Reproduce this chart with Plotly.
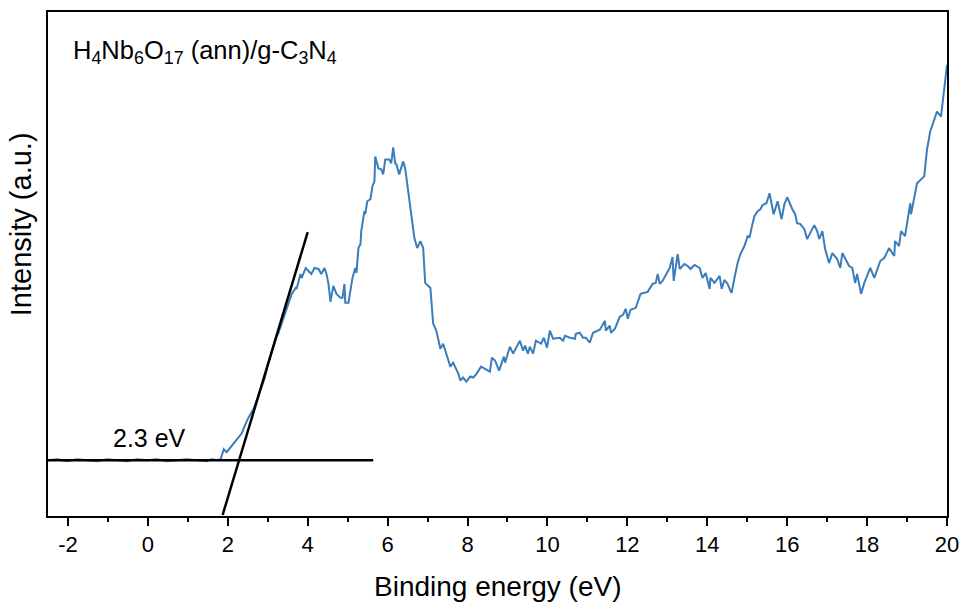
import plotly.graph_objects as go

# Binding energy (eV)
energy = [
    -2.5, -2.27, -2.02, -1.77, -1.52, -1.27, -1.02, -0.77, -0.52, -0.27,
    -0.02, 0.22, 0.47, 0.72, 0.97, 1.22, 1.47, 1.60, 1.72, 1.82,
    1.90, 1.97, 2.07, 2.15, 2.27, 2.35, 2.45, 2.52, 2.65, 2.72,
    2.82, 2.92, 3.02, 3.12, 3.20, 3.27, 3.45, 3.60, 3.70, 3.72,
    3.82, 3.85, 3.95, 4.02, 4.09, 4.17, 4.27, 4.34, 4.42, 4.47,
    4.52, 4.57, 4.64, 4.72, 4.82, 4.87, 4.92, 4.94, 5.02, 5.12,
    5.19, 5.22, 5.27, 5.32, 5.34, 5.42, 5.44, 5.49, 5.57, 5.62,
    5.67, 5.69, 5.77, 5.84, 5.89, 5.94, 6.04, 6.09, 6.14, 6.19,
    6.22, 6.29, 6.39, 6.44, 6.52, 6.59, 6.67, 6.74, 6.82, 6.89,
    6.94, 7.07, 7.14, 7.22, 7.32, 7.39, 7.47, 7.57, 7.64, 7.77,
    7.82, 7.89, 7.97, 8.07, 8.14, 8.21, 8.34, 8.44, 8.56, 8.61,
    8.69, 8.79, 8.91, 8.94, 9.06, 9.14, 9.31, 9.39, 9.44, 9.51,
    9.56, 9.64, 9.71, 9.84, 9.91, 9.99, 10.06, 10.14, 10.31, 10.39,
    10.44, 10.56, 10.69, 10.71, 10.81, 10.89, 10.96, 11.06, 11.14, 11.31,
    11.36, 11.44, 11.46, 11.56, 11.59, 11.69, 11.81, 11.89, 11.96, 12.01,
    12.08, 12.21, 12.33, 12.51, 12.63, 12.71, 12.76, 12.81, 12.88, 13.06,
    13.13, 13.16, 13.26, 13.31, 13.43, 13.51, 13.58, 13.68, 13.81, 13.88,
    13.96, 14.06, 14.08, 14.18, 14.31, 14.36, 14.43, 14.51, 14.58, 14.61,
    14.68, 14.76, 14.83, 14.93, 15.01, 15.06, 15.13, 15.18, 15.26, 15.33,
    15.38, 15.48, 15.56, 15.61, 15.66, 15.76, 15.86, 15.93, 16.00, 16.13,
    16.20, 16.25, 16.33, 16.43, 16.50, 16.60, 16.68, 16.75, 16.80, 16.88,
    16.93, 16.95, 17.05, 17.13, 17.25, 17.33, 17.38, 17.45, 17.55, 17.63,
    17.70, 17.75, 17.85, 17.93, 18.08, 18.18, 18.33, 18.43, 18.55, 18.68,
    18.70, 18.80, 18.85, 18.95, 19.08, 19.10, 19.25, 19.43, 19.50, 19.58,
    19.75, 19.85, 19.93, 20.00,
]

# Intensity (a.u.)
intensity = [
    56, 57, 55, 57, 56, 55, 57, 56, 55, 57,
    56, 57, 55, 56, 57, 56, 55, 57, 56, 57,
    67, 64, 69, 74, 79, 83, 93, 99, 108, 116,
    126, 138, 154, 168, 178, 184, 206, 223, 229, 228,
    243, 239, 249, 246, 243, 249, 248, 243, 249, 243,
    233, 215, 231, 223, 219, 219, 233, 214, 214, 239,
    249, 244, 269, 273, 286, 306, 303, 316, 318, 331,
    336, 361, 349, 348, 343, 358, 358, 354, 370, 354,
    353, 343, 356, 349, 326, 303, 279, 269, 276, 269,
    234, 229, 193, 186, 168, 173, 163, 150, 154, 143,
    136, 139, 135, 140, 139, 142, 150, 148, 145, 159,
    156, 146, 160, 154, 170, 163, 176, 166, 171, 163,
    170, 163, 176, 173, 179, 169, 186, 178, 179, 176,
    181, 179, 178, 183, 184, 179, 179, 174, 184, 187,
    190, 196, 186, 191, 184, 188, 200, 202, 208, 198,
    207, 209, 223, 225, 233, 234, 243, 233, 236, 249,
    260, 236, 263, 248, 253, 251, 248, 252, 249, 239,
    244, 228, 239, 234, 241, 228, 237, 233, 226, 224,
    239, 254, 263, 271, 281, 280, 293, 301, 306, 308,
    312, 314, 324, 314, 303, 316, 298, 313, 320, 308,
    303, 294, 293, 288, 278, 286, 292, 286, 278, 286,
    269, 268, 254, 264, 258, 249, 264, 259, 251, 249,
    234, 243, 223, 234, 249, 239, 256, 259, 269, 261,
    276, 271, 286, 281, 314, 303, 334, 341, 368, 386,
    406, 401, 426, 453,
]

# Onset construction lines
baseline_x = [-2.5, 5.64]
baseline_y = [56, 56]
tangent_x = [1.87, 4.0]
tangent_y = [1, 285]

x_ticks = [-2, 0, 2, 4, 6, 8, 10, 12, 14, 16, 18, 20]
x_tick_labels = ["-2", "0", "2", "4", "6", "8", "10", "12", "14", "16", "18", "20"]

FONT = "Liberation Sans, Arial, sans-serif"

fig = go.Figure()
fig.add_trace(go.Scatter(x=energy, y=intensity, mode="lines",
                         line=dict(color="#3a7dbd", width=2), showlegend=False))
fig.add_trace(go.Scatter(x=baseline_x, y=baseline_y, mode="lines",
                         line=dict(color="black", width=2.5), showlegend=False))
fig.add_trace(go.Scatter(x=tangent_x, y=tangent_y, mode="lines",
                         line=dict(color="black", width=2.5), showlegend=False))

fig.update_layout(
    width=969, height=608,
    margin=dict(l=48, r=16, t=10, b=92),
    paper_bgcolor="white", plot_bgcolor="white",
    font=dict(family=FONT, color="black"),
    xaxis=dict(range=[-2.5, 20], tickvals=x_ticks, ticktext=x_tick_labels,
               ticks="outside", ticklen=8,
               tickwidth=1.5, tickcolor="black", showline=True, linecolor="black",
               linewidth=2, mirror=True, showgrid=False, zeroline=False,
               tickfont=dict(size=22, family=FONT),
               minor=dict(dtick=1, tick0=0, ticks="outside", ticklen=4,
                          tickwidth=1.5, tickcolor="black", showgrid=False)),
    yaxis=dict(range=[0, 506], showticklabels=False, ticks="", showline=True,
               linecolor="black", linewidth=2, mirror=True, showgrid=False,
               zeroline=False),
    annotations=[
        dict(text="H<sub>4</sub>Nb<sub>6</sub>O<sub>17</sub> (ann)/g-C<sub>3</sub>N<sub>4</sub>",
             x=-1.92, y=466, xref="x", yref="y", xanchor="left", yanchor="middle",
             showarrow=False, font=dict(size=25.5, family=FONT)),
        dict(text="2.3 eV", x=0.03, y=78, xref="x", yref="y", xanchor="center",
             yanchor="middle", showarrow=False, font=dict(size=25, family=FONT)),
        dict(text="Binding energy (eV)", x=0.5, y=-0.14, xref="paper", yref="paper",
             xanchor="center", yanchor="middle", showarrow=False,
             font=dict(size=28, family=FONT)),
        dict(text="Intensity (a.u.)", x=-0.03, y=(516 - 223) / 506, xref="paper",
             yref="paper", xanchor="center", yanchor="middle", textangle=-90,
             showarrow=False, font=dict(size=29, family=FONT)),
    ],
)

fig.write_html("out.html")
